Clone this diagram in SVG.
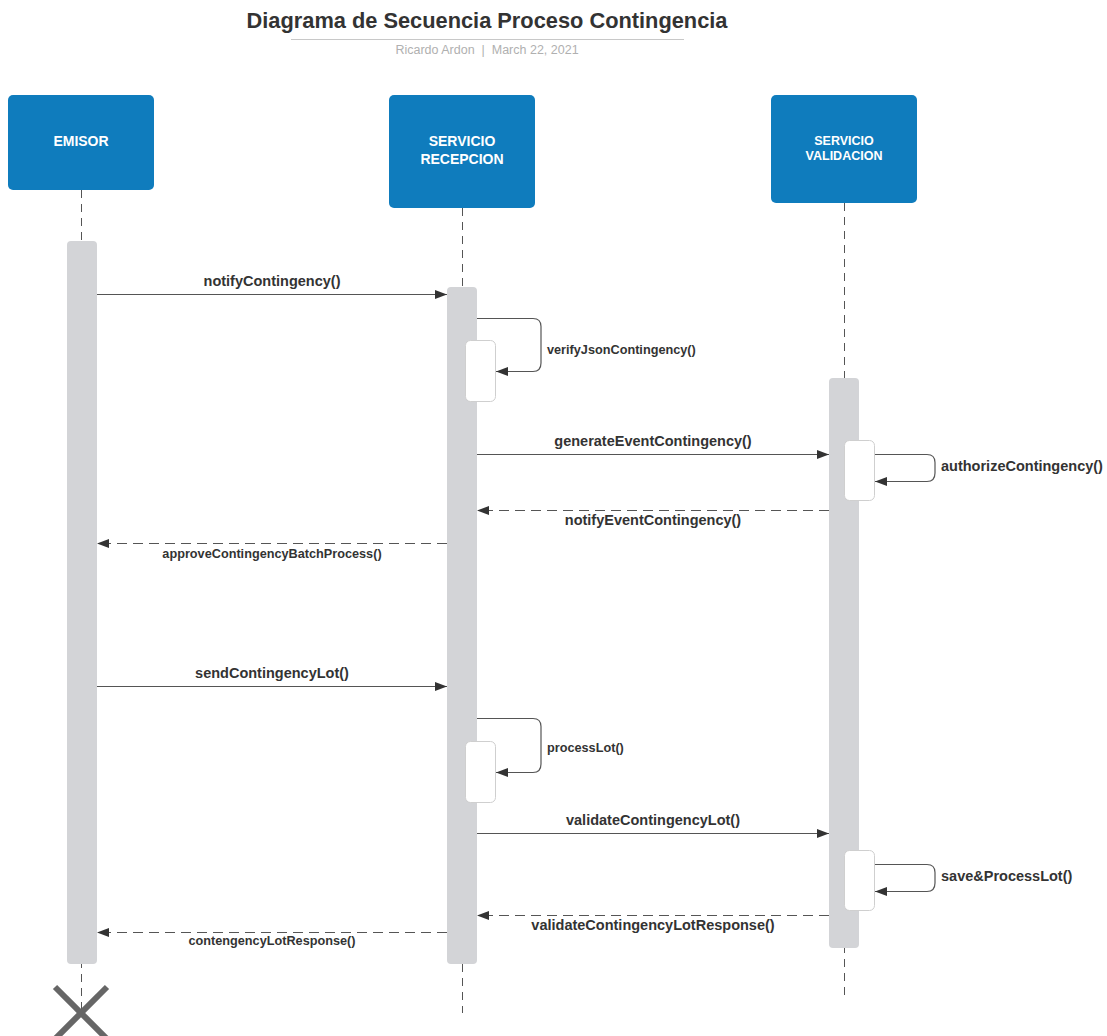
<svg xmlns="http://www.w3.org/2000/svg" width="1107" height="1036" viewBox="0 0 1107 1036">
<defs>
<style>
.hdr{fill:#0f7cbd;}
.hdrt{font-family:"Liberation Sans",Arial,sans-serif;font-weight:bold;fill:#fff;text-anchor:middle;}
.life{stroke:#555;stroke-width:1;stroke-dasharray:8,6;fill:none;}
.act{fill:#d3d4d7;}
.inner{fill:#fff;stroke:#cfcfcf;stroke-width:1;}
.msg{stroke:#555;stroke-width:1.2;fill:none;marker-end:url(#ah);}
.ret{stroke:#555;stroke-width:1.2;fill:none;stroke-dasharray:10,6;marker-end:url(#ah);}
.lbl{font-family:"Liberation Sans",Arial,sans-serif;font-weight:bold;fill:#333;font-size:14.5px;}
.lbls{font-family:"Liberation Sans",Arial,sans-serif;font-weight:bold;fill:#333;font-size:12.7px;}
.mid{text-anchor:middle;}
</style>
<marker id="ah" markerUnits="userSpaceOnUse" markerWidth="13" markerHeight="10" refX="12" refY="4.5" orient="auto">
<path d="M0,0 L12,4.5 L0,9 z" fill="#333"/>
</marker>
</defs>
<rect width="1107" height="1036" fill="#fff"/>
<g id="title">
<text x="487" y="28" font-family="'Liberation Sans',Arial,sans-serif" font-weight="bold" font-size="21.8" fill="#333" text-anchor="middle">Diagrama de Secuencia Proceso Contingencia</text>
<line x1="291" y1="39.5" x2="684" y2="39.5" stroke="#c8c8c8" stroke-width="1"/>
<text x="487" y="54" font-family="'Liberation Sans',Arial,sans-serif" font-size="12.5" fill="#b0b0b0" text-anchor="middle" xml:space="preserve">Ricardo Ardon  |  March 22, 2021</text>
</g>
<g id="emisor">
<line class="life" x1="81.5" y1="190" x2="81.5" y2="1012"/>
<rect class="hdr" x="8" y="95" width="146" height="95" rx="5"/>
<text class="hdrt" x="81" y="146" font-size="14">EMISOR</text>
<rect class="act" x="67" y="241" width="30" height="723" rx="4"/>
<g stroke="#666" stroke-width="6">
<line x1="55" y1="987" x2="107" y2="1039"/>
<line x1="107" y1="987" x2="55" y2="1039"/>
</g>
</g>
<g id="recepcion">
<line class="life" x1="462.5" y1="208" x2="462.5" y2="1013"/>
<rect class="hdr" x="389" y="95" width="146" height="113" rx="5"/>
<text class="hdrt" x="462" y="146" font-size="14">SERVICIO</text>
<text class="hdrt" x="462" y="164" font-size="14">RECEPCION</text>
<rect class="act" x="447" y="287" width="30" height="677" rx="4"/>
<rect class="inner" x="465.5" y="340.5" width="30" height="61" rx="5"/>
<rect class="inner" x="465.5" y="741.5" width="30" height="61" rx="5"/>
</g>
<g id="validacion">
<line class="life" x1="844.5" y1="203" x2="844.5" y2="998"/>
<rect class="hdr" x="771" y="95" width="146" height="108" rx="5"/>
<text class="hdrt" x="844" y="145" font-size="12.5">SERVICIO</text>
<text class="hdrt" x="844" y="160" font-size="12.5">VALIDACION</text>
<rect class="act" x="829" y="378" width="30" height="570" rx="4"/>
<rect class="inner" x="844.5" y="440.5" width="30" height="60" rx="5"/>
<rect class="inner" x="844.5" y="850.5" width="30" height="60" rx="5"/>
</g>
<g id="connectors">
<line class="msg" x1="97" y1="294.5" x2="447" y2="294.5"/>
<text class="lbl mid" x="272" y="286">notifyContingency()</text>
<path class="msg" d="M477,318.5 H533 Q541,318.5 541,326.5 V363 Q541,371.5 533,371.5 H496"/>
<text class="lbls" x="547" y="354">verifyJsonContingency()</text>
<line class="msg" x1="477" y1="454.5" x2="829" y2="454.5"/>
<text class="lbl mid" x="653" y="446">generateEventContingency()</text>
<path class="msg" d="M875,454.5 H927 Q935,454.5 935,462.5 V473 Q935,481.5 927,481.5 H875"/>
<text class="lbl" x="941" y="471">authorizeContingency()</text>
<line class="ret" x1="829" y1="510.5" x2="477" y2="510.5"/>
<text class="lbl mid" x="653" y="525">notifyEventContingency()</text>
<line class="ret" x1="447" y1="543.5" x2="97" y2="543.5"/>
<text class="lbls mid" x="272" y="558">approveContingencyBatchProcess()</text>
<line class="msg" x1="97" y1="686.5" x2="447" y2="686.5"/>
<text class="lbl mid" x="272" y="678">sendContingencyLot()</text>
<path class="msg" d="M477,718.5 H533 Q541,718.5 541,726.5 V764 Q541,772.5 533,772.5 H496"/>
<text class="lbls" x="547" y="752">processLot()</text>
<line class="msg" x1="477" y1="833.5" x2="829" y2="833.5"/>
<text class="lbl mid" x="653" y="825">validateContingencyLot()</text>
<path class="msg" d="M875,864.5 H927 Q935,864.5 935,872.5 V883 Q935,891.5 927,891.5 H875"/>
<text class="lbl" x="941" y="881">save&amp;ProcessLot()</text>
<line class="ret" x1="829" y1="915.5" x2="477" y2="915.5"/>
<text class="lbl mid" x="653" y="930">validateContingencyLotResponse()</text>
<line class="ret" x1="447" y1="932.5" x2="97" y2="932.5"/>
<text class="lbls mid" x="272" y="945">contengencyLotResponse()</text>
</g>
</svg>
